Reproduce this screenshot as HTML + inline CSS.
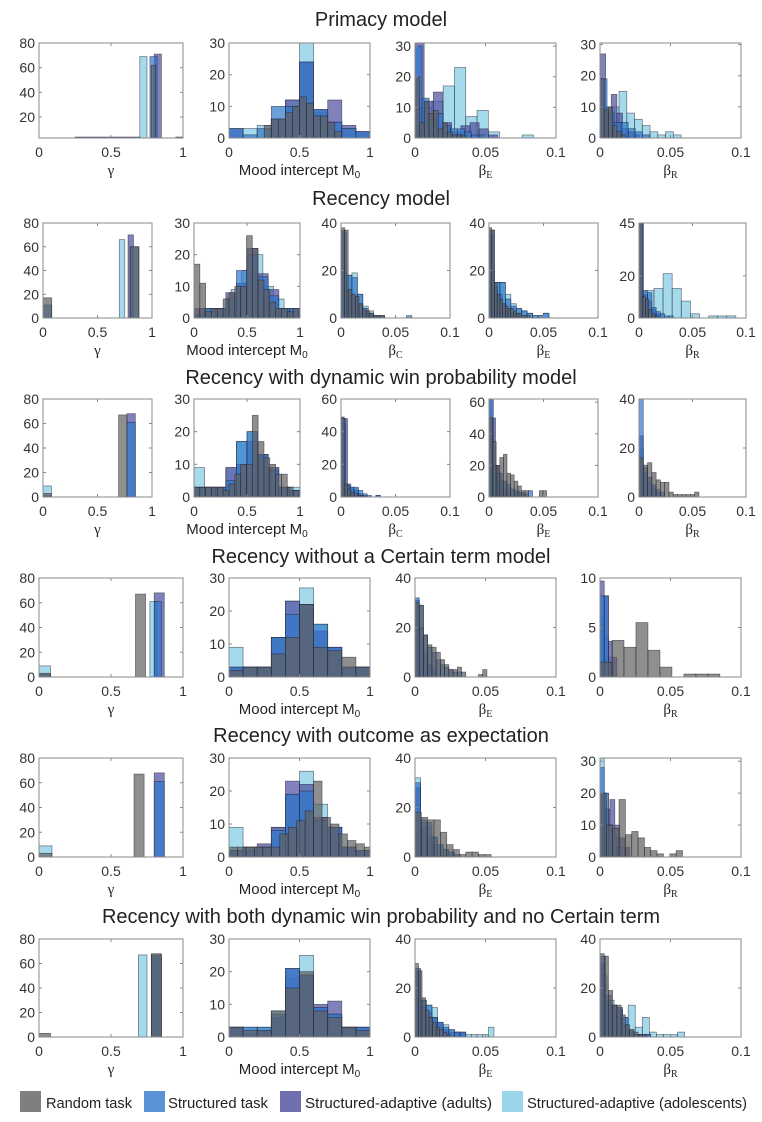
<!DOCTYPE html>
<html><head><meta charset="utf-8"><style>
body{margin:0;background:#fff;}
svg{display:block;font-family:"Liberation Sans",sans-serif;}
</style></head><body>
<svg id="fig" width="762" height="1122" viewBox="0 0 762 1122" xmlns="http://www.w3.org/2000/svg"></svg>
<script>
// ---- data ----
const seriesNames = ['Random task','Structured task','Structured-adaptive (adults)','Structured-adaptive (adolescents)'];
const seriesColors = ['#5f5f5f','#2f78cc','#4c4c9e','#7fcbe6'];
const rowTitles = ['Primacy model','Recency model','Recency with dynamic win probability model','Recency without a Certain term model','Recency with outcome as expectation','Recency with both dynamic win probability and no Certain term'];
const gammaTicks = [0,0.5,1];
const betaTicks = [0,0.05,0.1];
// each series: list of segments [binStart, binWidth, counts]
// order of series: rnd, str, adu, ado
const r1 = [
 {kind:'g',ymin:3,ymax:80,yt:[20,40,60,80],s:[[[0.78,0.03,[62]]],[[0.77,0.05,[69]]],[[0.80,0.05,[71]],[0.25,0.45,[3.6]],[0.95,0.05,[3.6]]],[[0.70,0.05,[69]]]]},
 {kind:'m',ymax:30,yt:[0,10,20,30],s:[[[0.25,0.05,[4,6,6,8,10,13,11,7,7,5,2]]],[[0,0.1,[3,1,3,10,10,24,9,5,3,2]]],[[0,0.1,[3,0,0,6,12,24,9,12,4,2]]],[[0.1,0.1,[3,4,6,12,30,8,5,3,2]]]]},
 {kind:'b',ymax:31,yt:[0,10,20,30],s:[[[0,0.0033,[20,5,12,8,9,3,5,2,1,1,1]]],[[0,0.005,[30,13,6,8,4,3,3,2,1,1]]],[[0,0.0065,[31,12,15,5,2,4,5,3,1]]],[[0.004,0.008,[10,12,17,23,7,9,2,0,0,1]]]]},
 {kind:'b',ymax:30.5,yt:[0,10,20,30],s:[[[0,0.003,[19,9,10,4,2,1]]],[[0,0.005,[19,8,5,5,3,2,1]]],[[0,0.004,[27,10,14,8,3,2,1]]],[[0.008,0.0055,[10,15,8,6,4,2,1,2,1]]]]}
];
const r2 = [
 {kind:'g',ymax:80,yt:[0,20,40,60,80],s:[[[0,0.08,[17,0,0,0,0,0,0,0,0,0,60]]],[[0,0.08,[11,0,0,0,0,0,0,0,0,0,60]]],[[0.78,0.05,[70]]],[[0.70,0.05,[66]]]]},
 {kind:'m',ymax:30,yt:[0,10,20,30],s:[[[0,0.055,[17,11,2,3,3,6,8,10,10,26,22,12,9,5,3,3,2,3]]],[[0,0.1,[1,3,3,6,15,20,13,7,3,3]]],[[0,0.1,[3,3,3,8,11,22,14,9,3,3]]],[[0.05,0.1,[3,3,3,9,15,20,10,6,3]]]]},
 {kind:'b',ymax:40,yt:[0,20,40],s:[[[0,0.0033,[38,37,12,10,9,6,4,3,2,1,1,1]]],[[0,0.005,[36,18,17,10,4,2,1,1,0,0,0,0,1]]],[[0,0.004,[37,12,10,9,6,3,2,1]]],[[0,0.005,[20,18,19,10,5,3,1,1]]]]},
 {kind:'b',ymax:40,yt:[0,20,40],s:[[[0,0.0025,[38,37,15,10,8,6,5,4,4,3,2,2,1,1,1]]],[[0,0.005,[37,15,15,8,5,4,3,2,1,1,2]]],[[0,0.004,[35,13,10,6,4,2]]],[[0,0.005,[20,15,15,10,6,4,3,2,1,1,2]]]]},
 {kind:'b',ymax:45,yt:[0,20,45],s:[[[0,0.003,[45,10,9,4,2,1]]],[[0,0.004,[45,13,12,5,3,2,1,1]]],[[0,0.004,[45,11,8,4,2]]],[[0.0055,0.0085,[13,14,21,14,8,2,0,1,1,1]]]]}
];
const r3 = [
 {kind:'g',ymax:80,yt:[0,20,40,60,80],s:[[[0,0.077,[3,0,0,0,0,0,0,0,0,67]]],[[0,0.077,[1]],[0.77,0.077,[61]]],[[0.77,0.077,[68]]],[[0,0.077,[9]]]]},
 {kind:'m',ymax:30,yt:[0,10,20,30],s:[[[0,0.055,[3,3,3,3,3,2,4,7,10,10,25,17,12,10,7,7,3,2]]],[[0,0.1,[3,3,3,5,17,20,13,8,3,2]]],[[0,0.1,[3,3,3,9,10,17,13,9,3,2]]],[[0,0.1,[9,3,3,9,17,20,13,9,3,3]]]]},
 {kind:'b',ymax:60,yt:[0,20,40,60],s:[[[0,0.003,[48,8,5,3,2,1,1]]],[[0,0.004,[48,7,6,6,4,2,1,0,1]]],[[0,0.003,[49,48,8,5,4,2,1,1]]],[[0,0.004,[45,7,6,5,2,1,0,0,1]]]]},
 {kind:'b',ymax:62,yt:[0,20,40,60],s:[[[0,0.0033,[50,35,20,25,27,15,14,10,7,4,4,0,0,0,4,4]]],[[0,0.004,[62,20,15,10,8,5,4,3,2,4]]],[[0,0.003,[62,50,20,10,5,3]]],[[0,0.004,[40,20,15,10,6,4,3,2]]]]},
 {kind:'b',ymax:40,yt:[0,20,40],s:[[[0,0.004,[16,13,14,10,7,6,6,2,1,1,1,1,1,2]]],[[0,0.004,[40,12,8,5,3,2]]],[[0,0.004,[25,10,6,3,2]]],[[0,0.004,[20,10,8,4]]]]}
];
const r4 = [
 {kind:'g',ymax:80,yt:[0,20,40,60,80],s:[[[0,0.08,[3]],[0.67,0.07,[67]]],[[0,0.08,[2]],[0.8,0.05,[61]]],[[0.8,0.07,[68]]],[[0,0.08,[9]],[0.77,0.05,[61]]]]},
 {kind:'m',ymax:30,yt:[0,10,20,30],s:[[[0,0.1,[2,3,3,7,12,22,9,8,6,3]]],[[0,0.1,[3,3,3,12,19,22,16,9,3,3]]],[[0,0.1,[3,3,3,12,23,22,14,9,3,3]]],[[0,0.1,[9,3,3,12,23,27,16,9,3,3]]]]},
 {kind:'b',ymax:40,yt:[0,20,40],s:[[[0,0.003,[30,29,17,13,12,10,7,5,3,3,4,2,0,0,0,1,3]]],[[0,0.003,[32,29,17,12,10,7,5,4,3,2,2]]],[[0,0.003,[31,20,10,5,3]]],[[0,0.003,[31,15,8,4,2]]]]},
 {kind:'b',ymax:10,yt:[0,5,10],s:[[[0,0.0085,[1.5,3.7,3,5.5,2.7,1,0,0.3,0.3,0.3]]],[[0,0.003,[8.2,8.2,1.5]]],[[0,0.003,[9.7,8.2,3.6,2]]],[[0,0.003,[6,4,2]]]]}
];
const r5 = [
 {kind:'g',ymax:80,yt:[0,20,40,60,80],s:[[[0,0.09,[3]],[0.66,0.07,[67]]],[[0.8,0.07,[61]]],[[0.8,0.07,[68]]],[[0,0.09,[9]]]]},
 {kind:'m',ymax:30,yt:[0,10,20,30],s:[[[0,0.06,[3,3,3,3,3,3,7,9,11,14,23,12,10,7,5,4,3]]],[[0,0.1,[2,3,3,8,19,20,11,9,3,2]]],[[0,0.1,[2,2,4,9,23,22,12,9,3,2]]],[[0,0.1,[9,3,3,9,19,26,16,9,3,2]]]]},
 {kind:'b',ymax:40,yt:[0,20,40],s:[[[0,0.0045,[18,16,15,15,10,5,3,1,2,2,1,1]]],[[0,0.004,[30,15,14,8,5,3,2,1]]],[[0,0.004,[28,12,8,5]]],[[0,0.004,[32,14,12,8,5,3,2]]]]},
 {kind:'b',ymax:31,yt:[0,10,20,30],s:[[[0,0.0045,[20,10,9,18,7,8,6,3,2,1,0,1,2]]],[[0,0.003,[28,20,10,6,3]]],[[0,0.0035,[20,15,18,10,6,3]]],[[0,0.003,[31,20,10]]]]}
];
const r6 = [
 {kind:'g',ymax:80,yt:[0,20,40,60,80],s:[[[0,0.08,[3]],[0.78,0.07,[68]]],[[0.78,0.07,[67]]],[[0.78,0.07,[67]]],[[0.69,0.06,[67]]]]},
 {kind:'m',ymax:30,yt:[0,10,20,30],s:[[[0,0.1,[3,2,2,8,15,20,8,6,3,2]]],[[0,0.1,[3,3,3,7,21,19,9,7,3,3]]],[[0,0.1,[3,1,2,6,21,19,10,11,3,3]]],[[0,0.1,[3,3,3,8,18,25,9,7,3,3]]]]},
 {kind:'b',ymax:40,yt:[0,20,40],s:[[[0,0.0025,[30,27,16,11,8,6,4,3,2,1]]],[[0,0.004,[28,15,13,8,6,4,3,2,2]]],[[0,0.004,[27,12,10,8,6,3,2,2,2]]],[[0,0.004,[20,15,13,12,5,5,3,2,1,1,1,1,1,4]]]]},
 {kind:'b',ymax:40,yt:[0,20,40],s:[[[0,0.003,[34,33,19,13,13,9,5,3,2,1,1]]],[[0,0.004,[33,17,13,11,8,3,1,1,1]]],[[0,0.004,[30,15,13,12,5,2,1,1,1]]],[[0,0.005,[25,15,12,8,13,4,8,2,1,1,1,2]]]]}
];
const rowsData = [r1,r2,r3,r4,r5,r6];
const xLabelsRow = [['g','m','bE','bR'],['g','m','bC','bE','bR'],['g','m','bC','bE','bR'],['g','m','bE','bR'],['g','m','bE','bR'],['g','m','bE','bR']];

// ---- layout ----
const rowGeom = [
 {title:26,top:43,bot:138},{title:205,top:223,bot:318},{title:384,top:399,bot:497},
 {title:563,top:578,bot:677},{title:742,top:758,bot:857},{title:923,top:939,bot:1037}];
const x4 = [[39,183],[229,370],[415,556],[600,741]];
const x5 = [[43,152],[194,300],[341,450],[489,598],[639,746]];

const svg = document.getElementById('fig');
const NS='http://www.w3.org/2000/svg';
function mk(tag, attrs, parent){const e=document.createElementNS(NS,tag);for(const k in attrs)e.setAttribute(k,attrs[k]);(parent||svg).appendChild(e);return e;}

rowsData.forEach((row,ri)=>{
  const g = rowGeom[ri];
  const t = mk('text',{x:381,y:g.title,'text-anchor':'middle','font-size':20,fill:'#222'});
  
  
  t.textContent = rowTitles[ri];
  const xs = row.length===4?x4:x5;
  row.forEach((p,pi)=>{
    const [x0,x1]=xs[pi];
    const top=g.top,bot=g.bot;
    const xmax = p.kind==='b'?0.1:1;
    const ymin = p.ymin||0;
    const sx = v=>x0+(v/xmax)*(x1-x0);
    const sy = v=>bot-((Math.max(v,ymin)-ymin)/(p.ymax-ymin))*(bot-top);
    const pg = mk('g',{});
    
    
    const clip = mk('clipPath',{id:'c'+ri+'_'+pi},pg);
    mk('rect',{x:x0,y:top,width:x1-x0,height:bot-top},clip);
    const bars = mk('g',{'clip-path':'url(#c'+ri+'_'+pi+')'},pg);
    [3,2,1,0].forEach(si=>{
      p.s[si].forEach(seg=>{
        const [b0,w,counts]=seg;
        counts.forEach((c,ci)=>{
          if(c<=0) return;
          const a=b0+ci*w, b=a+w;
          const yy = (ymin && c<=ymin+1) ? sy(ymin)-1 : sy(c);
          const r = mk('rect',{x:sx(a),y:yy,width:Math.max(sx(b)-sx(a),0.5),height:Math.max(bot-yy,1),fill:seriesColors[si],'fill-opacity':0.7,stroke:'#1e1e2a','stroke-opacity':0.6,'stroke-width':0.7},bars);
          
          
        });
      });
    });
    mk('rect',{x:x0,y:top,width:x1-x0,height:bot-top,fill:'none',stroke:'#888','stroke-width':1},pg);
    const xt = p.kind==='b'?betaTicks:gammaTicks;
    xt.forEach(v=>{
      const x=sx(v);
      mk('line',{x1:x,x2:x,y1:bot,y2:bot-3,stroke:'#888'},pg);
      mk('line',{x1:x,x2:x,y1:top,y2:top+3,stroke:'#888'},pg);
      const tl=mk('text',{x:x,y:bot+19,'text-anchor':'middle','font-size':14,fill:'#333'},pg);
      
      
      tl.textContent=String(v);
    });
    p.yt.forEach(v=>{
      const y=sy(v);
      mk('line',{x1:x0,x2:x0+3,y1:y,y2:y,stroke:'#888'},pg);
      mk('line',{x1:x1,x2:x1-3,y1:y,y2:y,stroke:'#888'},pg);
      const tl=mk('text',{x:x0-4,y:y+5,'text-anchor':'end','font-size':14,fill:'#333'},pg);
      
      
      tl.textContent=String(v);
    });
    const lab = xLabelsRow[ri][pi];
    const lt = mk('text',{x:(x0+x1)/2,y:bot+37,'text-anchor':'middle','font-size':15,fill:'#222'},pg);
    
    
    if(lab==='g'){lt.setAttribute('font-family','Liberation Serif, serif');lt.textContent='γ';}
    else if(lab==='m'){lt.textContent='Mood intercept M';const s=mk('tspan',{'font-size':10,dy:3},lt);s.textContent='0';}
    else {lt.setAttribute('font-family','Liberation Serif, serif');lt.textContent='β';const s=mk('tspan',{'font-size':10,dy:3},lt);s.textContent=lab[1];}
  });
});
// legend
const legX=[[20,46,86],[144,168,100],[280,305,187],[502,527,220]];
seriesNames.forEach((n,i)=>{
  const lg=mk('g',{});
  
  
  mk('rect',{x:legX[i][0],y:1091,width:21,height:21,fill:seriesColors[i],'fill-opacity':0.8},lg);
  const t=mk('text',{x:legX[i][1],y:1108,'font-size':15,fill:'#222',textLength:legX[i][2],lengthAdjust:'spacingAndGlyphs'},lg);
  t.textContent=n;
});
</script>
</body></html>
